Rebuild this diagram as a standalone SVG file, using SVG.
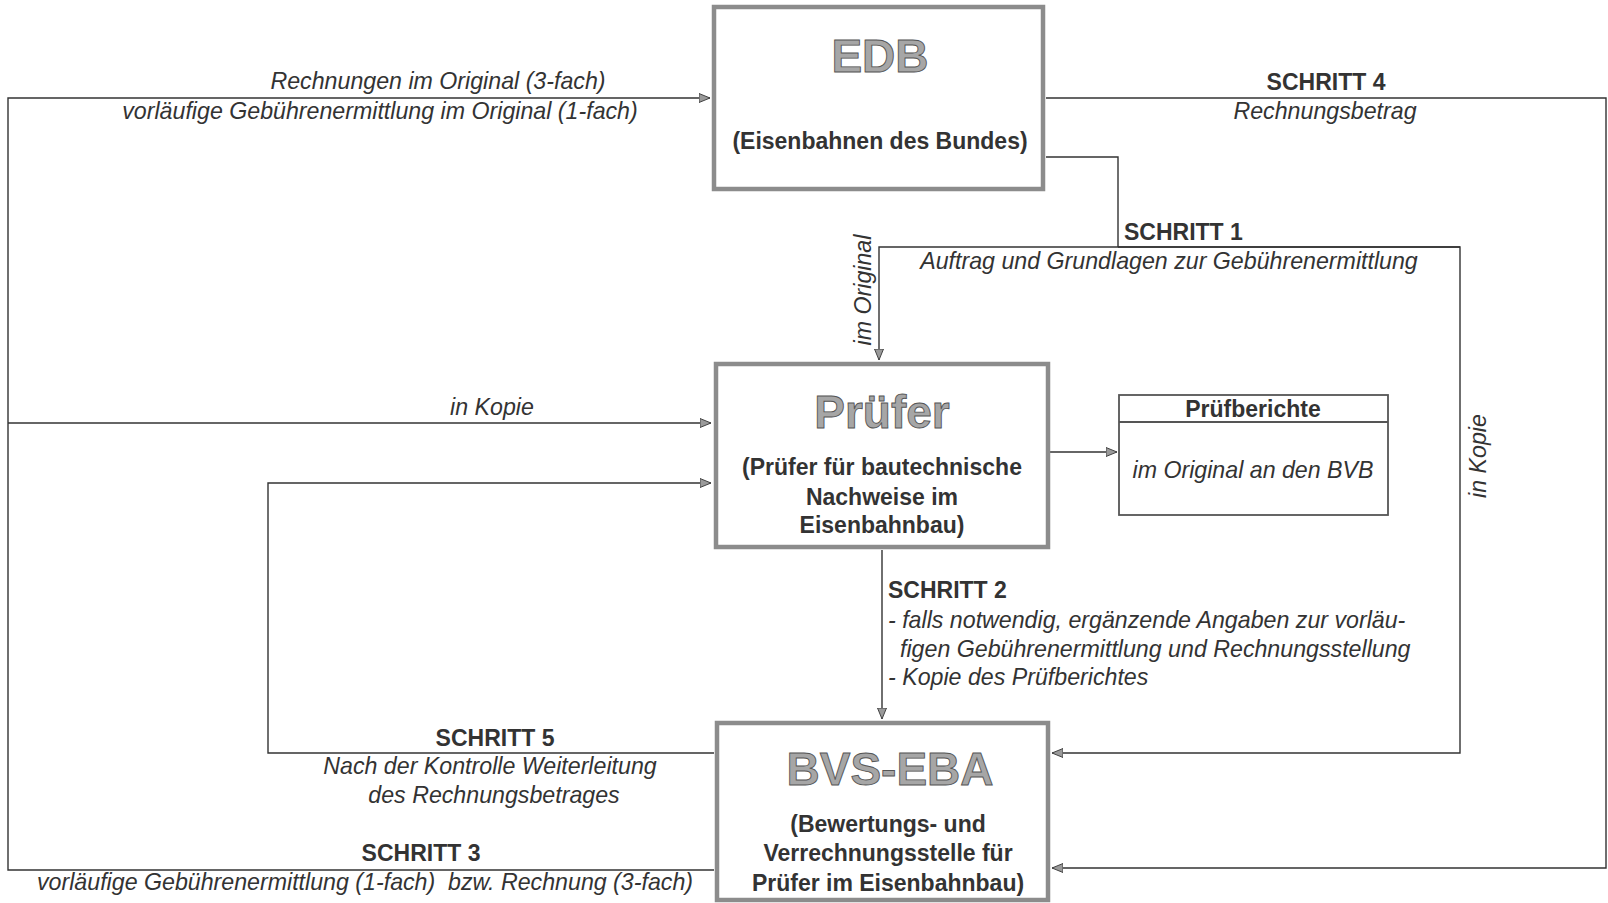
<svg xmlns="http://www.w3.org/2000/svg" width="1608" height="903" viewBox="0 0 1608 903">
<style>
.box{fill:#fff;stroke:#8c8c8c;stroke-width:4.5}
.box2{fill:#fff;stroke:#555;stroke-width:1.8}
.ln{fill:none;stroke:#333;stroke-width:1.4}
.big{font-family:"Liberation Sans",Arial,sans-serif;font-weight:bold;font-size:46px;fill:#a6a6a6;stroke:#555;stroke-width:0.9;text-anchor:middle}
.b{font-family:"Liberation Sans",Arial,sans-serif;font-weight:bold;font-size:23px;fill:#333}
.i{font-family:"Liberation Sans",Arial,sans-serif;font-style:italic;font-size:23.2px;fill:#333}
.m{text-anchor:middle}
</style>
<defs>
<marker id="ah" viewBox="0 0 12 10" refX="11" refY="5" markerWidth="12" markerHeight="10" markerUnits="userSpaceOnUse" orient="auto">
<path d="M0,0.5 L11,5 L0,9.5 Z" fill="#9a9a9a" stroke="#444" stroke-width="1"/>
</marker>
</defs>
<rect width="1608" height="903" fill="#fff"/>
<g id="connectors">
<path class="ln" d="M714 870 H8 V98 H710" marker-end="url(#ah)"/>
<path class="ln" d="M8 423 H711" marker-end="url(#ah)"/>
<path class="ln" d="M1046 98 H1606 V868 H1052" marker-end="url(#ah)"/>
<path class="ln" d="M1046 157 H1118 V247"/>
<path class="ln" d="M1460 247 H879 V360" marker-end="url(#ah)"/>
<path class="ln" d="M1118 247 H1460 V753 H1052" marker-end="url(#ah)"/>
<path class="ln" d="M1050 452 H1117" marker-end="url(#ah)"/>
<path class="ln" d="M882 550 V719" marker-end="url(#ah)"/>
<path class="ln" d="M714 753 H268 V483 H711" marker-end="url(#ah)"/>
</g>
<g id="labels">
<text class="i m" x="438" y="89">Rechnungen im Original (3-fach)</text>
<text class="i m" x="380" y="119">vorläufige Gebührenermittlung im Original (1-fach)</text>
<text class="b m" x="1326" y="90">SCHRITT 4</text>
<text class="i m" x="1325" y="119">Rechnungsbetrag</text>
<text class="b" x="1124" y="240">SCHRITT 1</text>
<text class="i m" x="1169" y="269">Auftrag und Grundlagen zur Gebührenermittlung</text>
<text class="i m" transform="translate(871 290) rotate(-90)">im Original</text>
<text class="i m" x="492" y="415">in Kopie</text>
<text class="i m" transform="translate(1486 456) rotate(-90)">in Kopie</text>
<text class="b" x="888" y="598">SCHRITT 2</text>
<text class="i" x="888" y="628">- falls notwendig, ergänzende Angaben zur vorläu-</text>
<text class="i" x="900" y="657">figen Gebührenermittlung und Rechnungsstellung</text>
<text class="i" x="888" y="685">- Kopie des Prüfberichtes</text>
<text class="b m" x="495" y="746">SCHRITT 5</text>
<text class="i m" x="490" y="774">Nach der Kontrolle Weiterleitung</text>
<text class="i m" x="494" y="803">des Rechnungsbetrages</text>
<text class="b m" x="421" y="861">SCHRITT 3</text>
<text class="i m" x="365" y="890" xml:space="preserve">vorläufige Gebührenermittlung (1-fach)  bzw. Rechnung (3-fach)</text>
</g>
<g id="edb">
<rect class="box" x="714" y="7" width="329" height="182"/>
<text class="big" x="880" y="72">EDB</text>
<text class="b m" x="880" y="149">(Eisenbahnen des Bundes)</text>
</g>
<g id="pruefer">
<rect class="box" x="716" y="364" width="332" height="183"/>
<text class="big" x="882" y="428">Prüfer</text>
<text class="b m" x="882" y="475">(Prüfer für bautechnische</text>
<text class="b m" x="882" y="505">Nachweise im</text>
<text class="b m" x="882" y="533">Eisenbahnbau)</text>
</g>
<g id="pruefberichte">
<rect class="box2" x="1119" y="395" width="269" height="120"/>
<line x1="1119" y1="422" x2="1388" y2="422" stroke="#555" stroke-width="1.8"/>
<text class="b m" x="1253" y="417">Prüfberichte</text>
<text class="i m" x="1253" y="478">im Original an den BVB</text>
</g>
<g id="bvs-eba">
<rect class="box" x="717" y="723" width="331" height="177"/>
<text class="big" x="890" y="785">BVS-EBA</text>
<text class="b m" x="888" y="832">(Bewertungs- und</text>
<text class="b m" x="888" y="861">Verrechnungsstelle für</text>
<text class="b m" x="888" y="891">Prüfer im Eisenbahnbau)</text>
</g>
</svg>
